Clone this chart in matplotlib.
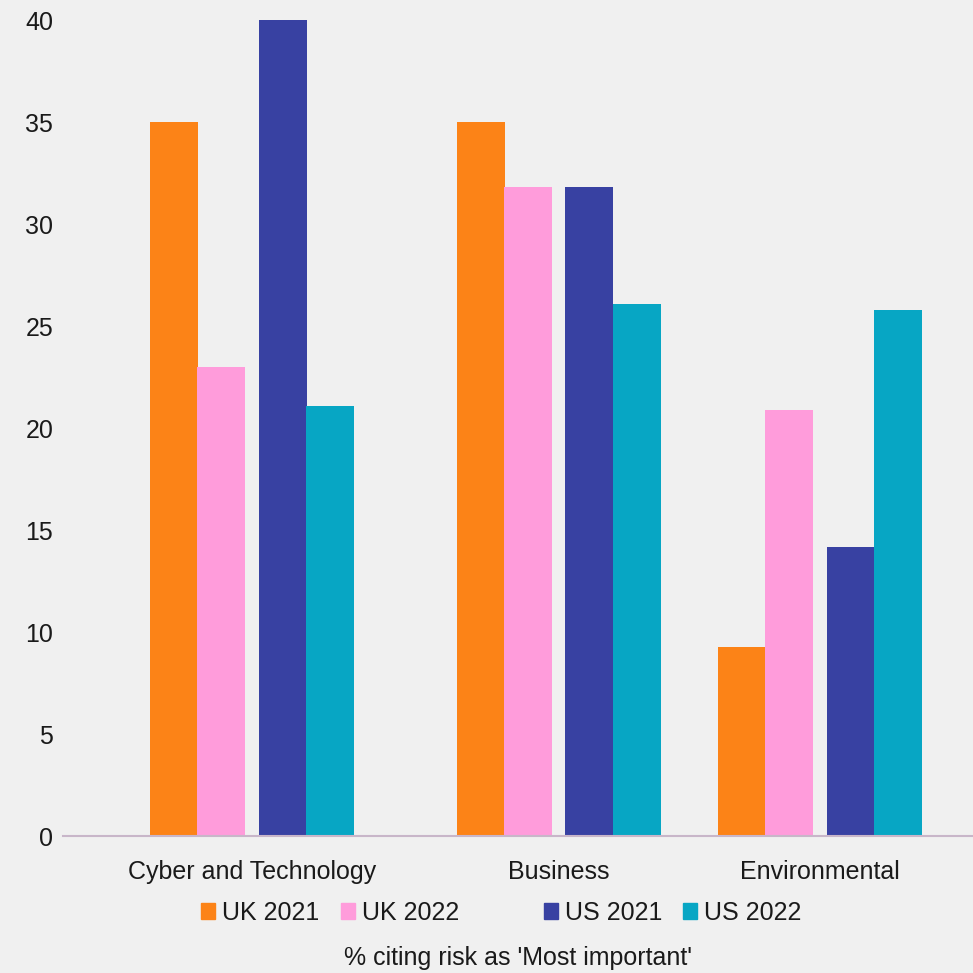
import numpy as np
import matplotlib.pyplot as plt
from matplotlib.patches import Patch

plt.rcParams['font.family'] = ['Liberation Sans', 'DejaVu Sans']

categories = ['Cyber and Technology', 'Business', 'Environmental']
series = ['UK 2021', 'UK 2022', 'US 2021', 'US 2022']
uk_2021 = [35.0, 35.0, 9.3]
uk_2022 = [23.0, 31.8, 20.9]
us_2021 = [40.0, 31.8, 14.2]
us_2022 = [21.1, 26.1, 25.8]
y_ticks = [0, 5, 10, 15, 20, 25, 30, 35, 40]
x_title = "% citing risk as 'Most important'"

colors = ['#FC8317', '#FF9CDB', '#3841A2', '#07A6C4']
# group layout (groups are not evenly spaced in the original)
group_x = np.array([0.0, 1.0, 1.852])
offsets = [-0.2545, -0.0995, 0.101, 0.256]
width = 0.1566
bg = '#f0f0f0'
txt = '#1a1a1a'
fs = 18

fig = plt.figure(figsize=(9.73, 9.73), dpi=100, facecolor=bg)
ax = fig.add_axes([0.0647, 0.1403, 0.9353, 0.8391], facecolor=bg)

for vals, off, c in zip([uk_2021, uk_2022, us_2021, us_2022], offsets, colors):
    ax.bar(group_x + off, vals, width=width, color=c, linewidth=0)

ax.set_xlim(-0.6166, 2.352)
ax.set_ylim(0, 40)
ax.set_yticks(y_ticks)
ax.set_xticks(group_x)
ax.set_xticklabels(categories)
ax.tick_params(axis='both', length=0, labelsize=fs, labelcolor=txt)
ax.tick_params(axis='x', pad=17)
ax.tick_params(axis='y', pad=7)
for s in ['top', 'right', 'left']:
    ax.spines[s].set_visible(False)
ax.spines['bottom'].set_color('#c8b6c9')
ax.spines['bottom'].set_linewidth(1.5)

handles = [Patch(color=colors[0]), Patch(color=colors[1]),
           Patch(color='none'), Patch(color=colors[2]), Patch(color=colors[3])]
labels = [series[0], series[1], '   ', series[2], series[3]]
leg = ax.legend(handles, labels, loc='center', bbox_to_anchor=(0.482, -0.0935),
                ncol=5, frameon=False, fontsize=fs, handlelength=0.56,
                handleheight=0.55, handletextpad=0.28, columnspacing=0.85,
                borderaxespad=0)
for t in leg.get_texts():
    t.set_color(txt)

fig.text(0.532, 0.0154, x_title, fontsize=fs, color=txt, ha='center', va='center')

fig.savefig('out.png', dpi=100, facecolor=bg)
